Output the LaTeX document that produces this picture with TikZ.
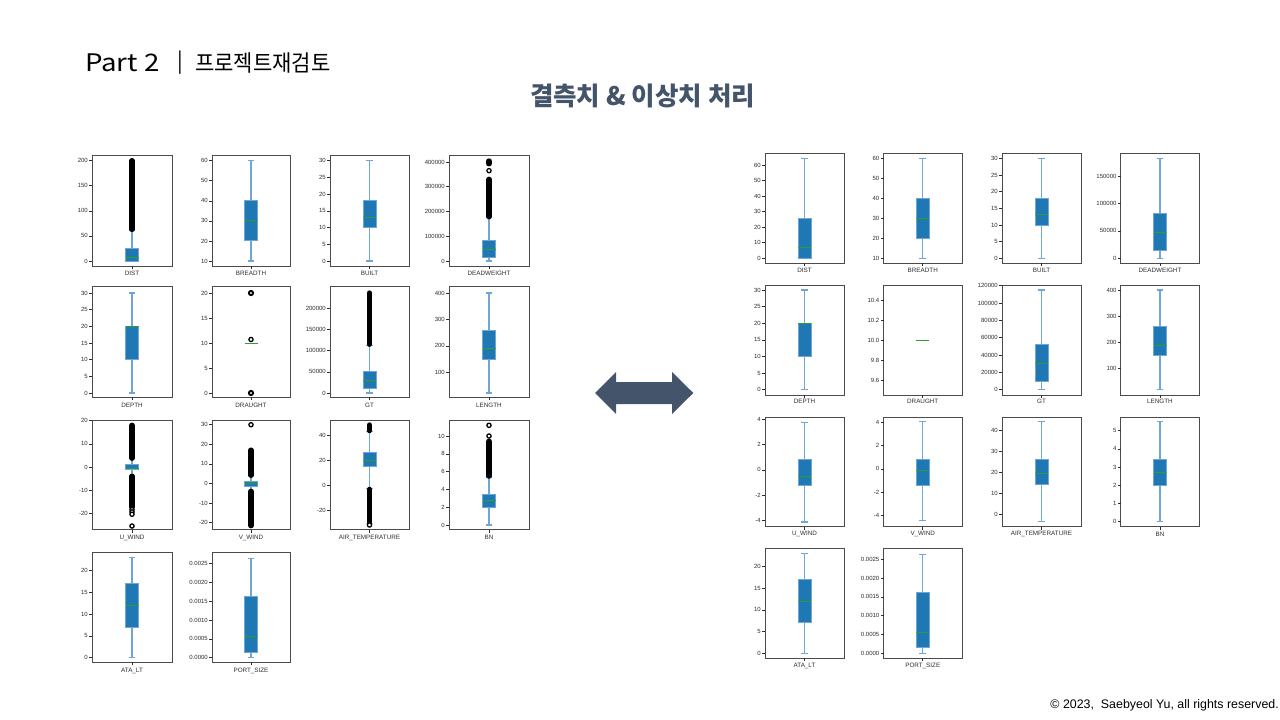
\documentclass[tikz,border=0pt]{standalone}
\usepackage{fontspec}
\setmainfont{Liberation Sans}
\newfontfamily\kr{Noto Sans CJK KR}
\definecolor{boxblue}{HTML}{1F77B4}
\definecolor{whisk}{RGB}{112,166,214}
\definecolor{medgreen}{HTML}{2CA02C}
\definecolor{frmgray}{RGB}{75,75,75}
\definecolor{tkgray}{RGB}{45,45,45}
\definecolor{slate}{HTML}{44546A}
\tikzset{
  frm/.style={draw=frmgray,line width=0.9pt},
  tk/.style={draw=tkgray,line width=0.6pt},
  tl/.style={anchor=east,inner sep=0pt,text=tkgray,font=\fontsize{6}{7}\selectfont},
  xl/.style={inner sep=0pt,text=tkgray,font=\fontsize{6.3}{7}\selectfont},
  wh/.style={draw=whisk,line width=1.2pt},
  bxs/.style={fill=boxblue,draw=whisk,line width=0.9pt},
  md/.style={draw=medgreen,line width=1pt},
  dns/.style={draw=black,line width=5.4pt,line cap=round},
  ocs/.style={draw=black,fill=white,line width=1.3pt},
  ocb/.style={draw=black,fill=white,line width=1.9pt},
  hdr/.style={anchor=west,inner sep=0pt,font=\kr\fontsize{21}{24}\selectfont},
  dat/.style n args={4}{/utils/exec={\pgfmathsetmacro\K{(#1-#3)/(#4-#2)}\pgfmathsetmacro\pz{#1+(#2)*\K}}, shift={(0,\pz)}, y=\K pt}
}
\newcommand\pfr[7]{%
  \pgfmathsetmacro\xo{#1}\pgfmathsetmacro\cx{(#1+#2)/2}%
  \draw[frm] (#1,#3) rectangle (#2,#4);
  \draw[tk] (\cx,#4) -- ++(0,3);
  \node[xl] (#7) at (\cx,#5) {#6};
}
\newcommand\ytk[1]{\foreach \v/\l in {#1}{\draw[tk] (\xo,\v) -- ++(-3,0); \node[tl] at (\xo-4,\v) {\l};}}
\newcommand\bx[5]{%
  \draw[wh] (\cx,#1) -- (\cx,#2) (\cx,#4) -- (\cx,#5);
  \draw[wh] (\cx-3.3,#1) -- (\cx+3.3,#1) (\cx-3.3,#5) -- (\cx+3.3,#5);
  \draw[bxs] (\cx-6.5,#2) rectangle (\cx+6.5,#4);
  \draw[md] (\cx-6.5,#3) -- (\cx+6.5,#3);
}
\newcommand\dn[2]{\draw[dns] (\cx,#1) -- (\cx,#2);}
\newcommand\oc[1]{\draw[ocs] (\cx,#1) circle[radius=2.1pt];}
\newcommand\ob[1]{\draw[ocb] (\cx,#1) circle[radius=2.1pt];}
\begin{document}
\begin{tikzpicture}[x=1pt,y=-1pt]
\useasboundingbox (0,0) rectangle (1280,720);
\fill[white] (0,0) rectangle (1280,720);

% header
\node[hdr,font=\kr\fontsize{23}{26}\selectfont] (part) at (85,63) {\scalebox{1.2}[1.05]{Part 2}};
\node[hdr] (bar) at (177,63) {|};
\node[hdr] (proj) at (195,63) {\scalebox{1}[1.08]{프로젝트재검토}};
\node[inner sep=0pt,text=slate,font=\kr\bfseries\fontsize{25.5}{29}\selectfont] (title) at (642.5,96) {결측치 \& 이상치 처리};
\node[anchor=east,inner sep=0pt,font=\fontsize{12.4}{14}\selectfont] (copy) at (1279,705) {© 2023,\ \ Saebyeol Yu, all rights reserved.};

% double arrow
\fill[slate] (595,393) -- (616,372) -- (616,382) -- (672,382) -- (672,372) -- (693.3,393) -- (672,414) -- (672,404) -- (616,404) -- (616,414) -- cycle;

%================ LEFT =================
% row 1
\pfr{92}{172}{155}{266}{273.5}{DIST}{l1}
\begin{scope}[dat={160.7}{200}{261}{0}]
\ytk{0/0,50/50,100/100,150/150,200/200}
\bx{0}{0}{7}{25}{62}
\dn{63}{200}
\end{scope}
\pfr{212}{290}{155}{266}{273.5}{BREADTH}{l2}
\begin{scope}[dat={160.7}{60}{261}{10}]
\ytk{10/10,20/20,30/30,40/40,50/50,60/60}
\bx{10}{20}{30}{40}{60}
\end{scope}
\pfr{330}{409}{155}{266}{273.5}{BUILT}{l3}
\begin{scope}[dat={160.7}{30}{261}{0}]
\ytk{0/0,5/5,10/10,15/15,20/20,25/25,30/30}
\bx{0}{10}{13}{18}{30}
\end{scope}
\pfr{449}{529}{155}{266}{273.5}{DEADWEIGHT}{l4}
\begin{scope}[dat={162}{400}{261}{0}]
\ytk{0/0,100/100000,200/200000,300/300000,400/400000}
\bx{0}{15}{48}{84}{175}
\dn{179}{330}
\oc{365}
\dn{393}{404}
\end{scope}
% row 2
\pfr{92}{172}{286.7}{397.3}{405}{DEPTH}{l5}
\begin{scope}[dat={293}{30}{393}{0}]
\ytk{0/0,5/5,10/10,15/15,20/20,25/25,30/30}
\bx{0}{10}{20}{20}{30}
\end{scope}
\pfr{212}{290}{286.7}{397.3}{405}{DRAUGHT}{l6}
\begin{scope}[dat={293}{20}{393}{0}]
\ytk{0/0,5/5,10/10,15/15,20/20}
\draw[md] (\cx-6.5,10) -- (\cx+6.5,10);
\ob{20}
\oc{10.7}
\ob{0}
\end{scope}
\pfr{330}{409}{286.7}{397.3}{405}{GT}{l7}
\begin{scope}[dat={308.3}{200}{393}{0}]
\ytk{0/0,50/50000,100/100000,150/150000,200/200000}
\bx{0}{11}{30}{52}{113}
\dn{115}{236}
\end{scope}
\pfr{449}{529}{286.7}{397.3}{405}{LENGTH}{l8}
\begin{scope}[dat={293}{400}{372.3}{100}]
\ytk{100/100,200/200,300/300,400/400}
\bx{22}{150}{190}{260}{400}
\end{scope}
% row 3
\pfr{92}{172}{420}{529.5}{537.7}{U\_WIND}{l9}
\begin{scope}[dat={420.7}{20}{513.3}{-20}]
\ytk{-20/-20,-10/-10,0/0,10/10,20/20}
\bx{-3.7}{-1}{-0.5}{1}{3.7}
\dn{3.8}{18}
\dn{-4}{-17.3}
\oc{-18.4}\oc{-19.4}\oc{-20.4}
\oc{-25.5}
\end{scope}
\pfr{212}{290}{420}{529.5}{537.7}{V\_WIND}{l10}
\begin{scope}[dat={424.7}{30}{522.7}{-20}]
\ytk{-20/-20,-10/-10,0/0,10/10,20/20,30/30}
\bx{-4}{-1.3}{-0.1}{0.8}{4}
\dn{4.2}{17}
\oc{30}
\dn{-4}{-21.5}
\end{scope}
\pfr{330}{409}{420}{529.5}{537.7}{AIR\_TEMPERATURE}{l11}
\begin{scope}[dat={435}{40}{510}{-20}]
\ytk{-20/-20,0/0,20/20,40/40}
\bx{-3}{14.5}{19.5}{25.8}{43}
\dn{43.5}{48}
\dn{-3.5}{-29}
\oc{-31}\oc{-32}
\end{scope}
\pfr{449}{529}{420}{529.5}{537.7}{BN}{l12}
\begin{scope}[dat={436}{10}{525}{0}]
\ytk{0/0,2/2,4/4,6/6,8/8,10/10}
\bx{0}{2}{2.7}{3.4}{5.4}
\dn{5.5}{9.4}
\oc{10}\oc{11.2}
\end{scope}
% row 4
\pfr{92}{172}{552.7}{662.3}{671}{ATA\_LT}{l13}
\begin{scope}[dat={570.7}{20}{657.7}{0}]
\ytk{0/0,5/5,10/10,15/15,20/20}
\bx{0}{7}{12}{17}{23}
\end{scope}
\pfr{212}{290}{552.7}{662.3}{671}{PORT\_SIZE}{l14}
\begin{scope}[dat={563.3}{25}{657.7}{0}]
\ytk{0/0.0000,5/0.0005,10/0.0010,15/0.0015,20/0.0020,25/0.0025}
\bx{0}{1.5}{5.5}{16.2}{26.2}
\end{scope}

%================ RIGHT =================
% row 1
\pfr{765}{844}{153.3}{263.3}{270}{DIST}{r1}
\begin{scope}[dat={165}{60}{258.3}{0}]
\ytk{0/0,10/10,20/20,30/30,40/40,50/50,60/60}
\bx{0}{0}{7}{25.5}{64}
\end{scope}
\pfr{883.5}{962}{153.3}{263.3}{270}{BREADTH}{r2}
\begin{scope}[dat={158.3}{60}{258.3}{10}]
\ytk{10/10,20/20,30/30,40/40,50/50,60/60}
\bx{10}{20}{30}{40}{60}
\end{scope}
\pfr{1002}{1081}{153.3}{263.3}{270}{BUILT}{r3}
\begin{scope}[dat={158.3}{30}{258.3}{0}]
\ytk{0/0,5/5,10/10,15/15,20/20,25/25,30/30}
\bx{0}{10}{13}{18}{30}
\end{scope}
\pfr{1120.7}{1199.3}{153.3}{263.3}{270}{DEADWEIGHT}{r4}
\begin{scope}[dat={176}{150}{258.3}{0}]
\ytk{0/0,50/50000,100/100000,150/150000}
\bx{0}{15}{47}{81}{182}
\end{scope}
% row 2
\pfr{765}{844}{285}{395}{401.7}{DEPTH}{r5}
\begin{scope}[dat={290}{30}{389.7}{0}]
\ytk{0/0,5/5,10/10,15/15,20/20,25/25,30/30}
\bx{0}{10}{20}{20}{30}
\end{scope}
\pfr{883.5}{962}{285}{395}{401.7}{DRAUGHT}{r6}
\begin{scope}[dat={300}{10.4}{380}{9.6}]
\ytk{9.6/9.6,9.8/9.8,10/10.0,10.2/10.2,10.4/10.4}
\draw[md] (\cx-6.5,10) -- (\cx+6.5,10);
\end{scope}
\pfr{1002}{1081}{285}{395}{401.7}{GT}{r7}
\begin{scope}[dat={285.7}{120}{389.7}{0}]
\ytk{0/0,20/20000,40/40000,60/60000,80/80000,100/100000,120/120000}
\bx{0}{9.7}{30}{52}{115}
\end{scope}
\pfr{1120.7}{1199.3}{285}{395}{401.7}{LENGTH}{r8}
\begin{scope}[dat={290}{400}{368.7}{100}]
\ytk{100/100,200/200,300/300,400/400}
\bx{20}{150}{190}{260}{400}
\end{scope}
% row 3
\pfr{765}{844}{417.3}{526.7}{534}{U\_WIND}{r9}
\begin{scope}[dat={419}{4}{520.7}{-4}]
\ytk{-4/-4,-2/-2,0/0,2/2,4/4}
\bx{-4.1}{-1.2}{-0.5}{0.8}{3.75}
\end{scope}
\pfr{883.5}{962}{417.3}{526.7}{534}{V\_WIND}{r10}
\begin{scope}[dat={422.7}{4}{515}{-4}]
\ytk{-4/-4,-2/-2,0/0,2/2,4/4}
\bx{-4.5}{-1.4}{-0.1}{0.8}{4.1}
\end{scope}
\pfr{1002}{1081}{417.3}{526.7}{534}{AIR\_TEMPERATURE}{r11}
\begin{scope}[dat={430}{40}{514}{0}]
\ytk{0/0,10/10,20/20,30/30,40/40}
\bx{-3.5}{14.2}{19.5}{26}{44}
\end{scope}
\pfr{1120.7}{1199.3}{417.3}{526.7}{534}{BN}{r12}
\begin{scope}[dat={430.7}{5}{521.7}{0}]
\ytk{0/0,1/1,2/2,3/3,4/4,5/5}
\bx{0}{2}{2.7}{3.4}{5.5}
\end{scope}
% row 4
\pfr{765}{844}{548.3}{658.3}{666}{ATA\_LT}{r13}
\begin{scope}[dat={566.3}{20}{653.3}{0}]
\ytk{0/0,5/5,10/10,15/15,20/20}
\bx{0}{7}{12}{17}{23}
\end{scope}
\pfr{883.5}{962}{548.3}{658.3}{666}{PORT\_SIZE}{r14}
\begin{scope}[dat={559.3}{25}{653.3}{0}]
\ytk{0/0.0000,5/0.0005,10/0.0010,15/0.0015,20/0.0020,25/0.0025}
\bx{0}{1.5}{5.5}{16.2}{26.2}
\end{scope}
\end{tikzpicture}
\end{document}
